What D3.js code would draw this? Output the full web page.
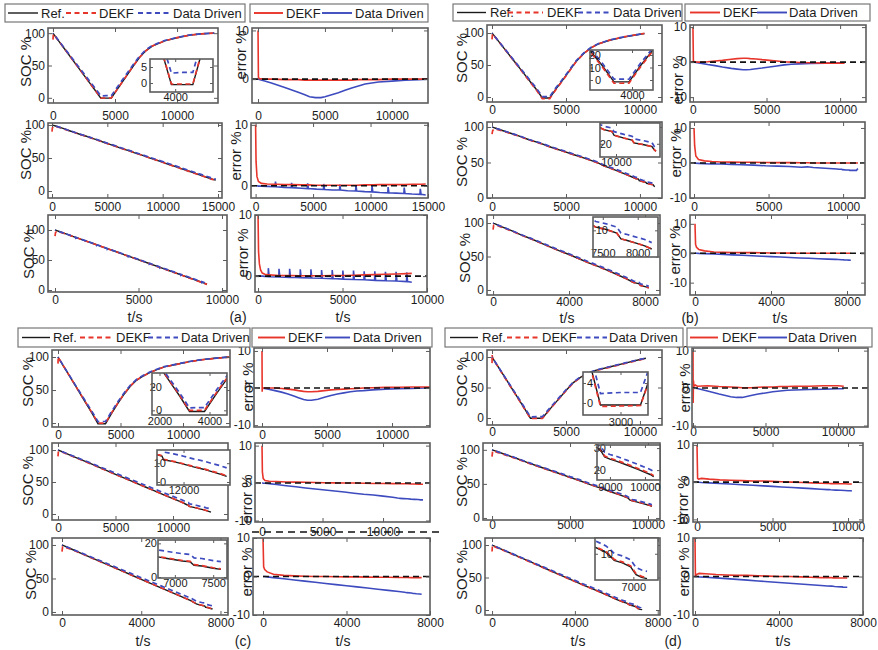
<!DOCTYPE html>
<html><head><meta charset="utf-8">
<script src="https://cdn.jsdelivr.net/npm/d3@7"></script>
<style>
html,body{margin:0;padding:0;background:#fff;}
svg{display:block;}
</style></head><body>
<script>
// ---------- series: time (s), reference SOC (%), DEKF error (%), data-driven error (%) ----------
// (a) row 1: charge/discharge cycle
const a1T    = [0,30,100,500,1000,2000,3000,3500,3850,4300,4700,5000,5500,6000,6500,7000,7500,8000,9000,10000,11000,12000,13000];
const a1Ref  = [100,99.2,97.4,87,74,48,22,9,-0.5,-0.5,-0.5,8,22,36,50,63,73,80,88,93,97,99,100];
const a1Dekf = [10,0.4,0.1,0,0,-0.1,-0.1,-0.2,-0.2,-0.2,-0.2,-0.2,-0.2,-0.2,-0.2,-0.2,-0.1,-0.1,-0.1,0,0,0,0];
const a1DD   = [0,0,-0.1,-0.4,-0.8,-1.7,-2.7,-3.2,-3.6,-3.8,-3.8,-3.6,-3.2,-2.8,-2.3,-1.8,-1.4,-1.0,-0.6,-0.4,-0.2,-0.1,0];
// (a) row 2
const a2T    = [0,40,120,250,500,1000,1700,1730,1800,2500,3100,3130,3200,4000,4500,4530,4600,5300,5900,5930,6000,6700,7300,7330,7400,8000,8700,8730,8800,9500,10100,10130,10200,10800,11500,11530,11600,12200,12900,12930,13000,13600,14300,14330,14400,14800];
const a2Ref  = [100,99.8,99.4,98.8,97.5,94.8,90.5,90.4,90.2,86,83,82.9,82.3,77.8,75,74.9,74.2,70.3,67,66.9,66.2,62.4,59,58.9,58.2,55,51,50.9,50.2,46.5,43,42.9,42.2,39,35,34.9,34.2,31,27,26.9,26.2,23,19,18.9,18.2,16.5];
const a2Dekf = [10,4,1.5,0.7,0.4,0.3,0.25,0.25,0.25,0.2,0.2,0.2,0.2,0.15,0.15,0.15,0.15,0.1,0.1,0.1,0.1,0.1,0.1,0.1,0.1,0.1,0.1,0.1,0.1,0.15,0.15,0.15,0.15,0.2,0.2,0.2,0.2,0.2,0.2,0.2,0.2,0.25,0.25,0.25,0.25,0.3];
const a2DD   = [0,0,0,-0.05,-0.05,-0.1,-0.15,0.7,-0.15,-0.25,-0.3,0.5,-0.3,-0.4,-0.45,0.4,-0.45,-0.55,-0.6,0.3,-0.6,-0.7,-0.7,0.2,-0.7,-0.8,-0.85,0.1,-0.85,-0.95,-1.0,0,-1.0,-1.1,-1.15,-0.2,-1.15,-1.2,-1.25,-0.3,-1.25,-1.35,-1.4,-0.5,-1.4,-1.5];
// (a) row 3
const a3T    = [0,30,80,150,250,400,600,610,660,1230,1240,1290,1860,1870,1920,2490,2500,2550,3120,3130,3180,3750,3760,3810,4380,4390,4440,5010,5020,5070,5640,5650,5700,6270,6280,6330,6900,6910,6960,7530,7540,7590,8160,8170,8220,8790,8800,8850,9100];
const a3Ref  = [100,99.7,99.2,98.5,97.5,96,94.1,94,93.5,87.8,87.7,87.2,81.6,81.5,81,75.4,75.3,74.8,69.1,69,68.5,62.9,62.8,62.3,56.6,56.5,56,50.4,50.3,49.8,44.2,44.1,43.6,37.9,37.8,37.3,31.7,31.6,31.1,25.5,25.4,24.9,19.2,19.1,18.6,13,12.9,12.4,9.9];
const a3Dekf = [10,4,2,1,0.5,0.3,0.2,0.2,0.2,0.1,0.1,0.1,0.1,0.1,0.1,0.05,0.05,0.05,0.05,0.05,0.05,0.05,0.05,0.05,0.1,0.1,0.1,0.1,0.1,0.1,0.15,0.15,0.15,0.2,0.2,0.2,0.25,0.25,0.25,0.3,0.3,0.3,0.35,0.35,0.35,0.4,0.4,0.4,0.45];
const a3DD   = [0,0,0,0,0,-0.05,-0.1,1.3,-0.1,-0.15,1.2,-0.15,-0.2,1.2,-0.2,-0.25,1.1,-0.25,-0.3,1.1,-0.3,-0.35,1.0,-0.35,-0.4,1.0,-0.4,-0.5,0.9,-0.5,-0.55,0.9,-0.55,-0.6,0.8,-0.6,-0.7,0.8,-0.7,-0.75,0.7,-0.75,-0.8,0.7,-0.8,-0.9,0.6,-0.9,-1.0];
// (b) row 1
const b1T    = [0,30,100,500,1000,1500,2000,2600,3000,3400,3650,3900,4300,4700,5200,5700,6200,6700,7200,8000,9000,10000,10300];
const b1Ref  = [100,99.1,97,85.3,70.6,55.9,41.2,23.5,11.8,-1.5,-1.5,-1.5,12,24,40,56,68,77,83,89,94,98,99];
const b1Dekf = [10,0.3,0.05,0,0.1,0.3,0.5,0.8,1.0,1.1,1.1,1.0,0.9,0.7,0.5,0.3,0.1,0,-0.1,-0.2,-0.3,-0.3,-0.3];
const b1DD   = [0,0,-0.05,-0.3,-0.7,-1.0,-1.4,-1.8,-2.0,-2.2,-2.2,-2.1,-1.9,-1.7,-1.4,-1.1,-0.8,-0.6,-0.5,-0.4,-0.3,-0.2,-0.2];
// (b) row 2
const b2T    = [0,40,120,300,700,1200,1800,2500,3200,4000,4800,5600,6400,7200,7600,8000,8800,9600,9700,9900,9950,10200,10400,10450,10700,10900,10950,11000];
const b2Ref  = [100,99.7,99.1,97.8,95,91.5,87.5,82,77.5,71.5,66,60.5,55,49,45,42,35.5,28.5,27.5,26.5,24.5,23,22,20.5,19.5,18.5,17,16];
const b2Dekf = [10,5,2,1,0.6,0.4,0.3,0.25,0.2,0.2,0.15,0.1,0.1,0.05,0.05,0,0,0,0,0,0,0,0,0,0,0,0,0];
const b2DD   = [0,0,-0.05,-0.1,-0.2,-0.3,-0.3,-0.4,-0.5,-0.6,-0.8,-0.9,-1.0,-1.2,-1.1,-1.3,-1.5,-1.7,-1.8,-1.8,-1.9,-2.0,-2.0,-2.1,-2.1,-2.1,-1.8,-1.6];
// (b) row 3
const b3T    = [0,30,80,200,500,1000,1500,2000,2500,3000,3500,4000,4500,5000,5500,6000,6500,7000,7400,7550,7700,7760,7850,8000,8100,8200];
const b3Ref  = [100,99.6,99.1,97.6,94,88.2,82,76.5,70.5,64.5,58.5,53,47,41,35.5,29.5,23.5,17,11.2,10.3,9,6.8,6.2,5,4.2,3];
const b3Dekf = [10,3,2,1.3,0.8,0.4,0.3,0.25,0.2,0.2,0.15,0.1,0.1,0.05,0,0,0,0,0,0,0,0,0,0,0,0];
const b3DD   = [0,0,0,-0.05,-0.12,-0.25,-0.4,-0.55,-0.7,-0.85,-1.0,-1.15,-1.3,-1.45,-1.6,-1.7,-1.85,-2.0,-2.1,-2.15,-2.2,-2.2,-2.25,-2.3,-2.35,-2.4];
// (c) row 1
const c1T    = [0,15,30,100,500,1000,1500,2000,2500,2800,3200,3500,3800,4300,4800,5300,5800,6300,6800,7300,7800,8500,9500,10500,11500,12500,13700];
const c1Ref  = [100,99.5,99,96.9,84.4,68.8,53.1,37.5,21.9,12.5,-1,-1,-1,15,30,44,56,65,71,76,80,85,89,93,96,98,100];
const c1Dekf = [10,-1,0.2,0,0,0,-0.1,-0.3,-0.5,-0.7,-0.9,-1.0,-1.0,-0.9,-0.7,-0.5,-0.4,-0.3,-0.2,-0.1,0,0.1,0.2,0.2,0.3,0.3,0.3];
const c1DD   = [0,0,0,-0.05,-0.3,-0.7,-1.1,-1.6,-2.2,-2.6,-3.1,-3.3,-3.3,-3.0,-2.5,-2.0,-1.6,-1.3,-1.0,-0.8,-0.7,-0.5,-0.3,-0.2,-0.1,0,0];
// (c) row 2
const c2T    = [0,30,100,250,600,1200,2000,2800,3600,4400,5200,6000,6800,7600,8400,9200,10000,10800,11200,11350,11400,11700,12000,12300,12600,12900,13100,13300];
const c2Ref  = [100,99.8,99.3,98.2,95.6,91,85,79,72.8,66.6,60.5,54.4,48.3,42.2,36.2,30,24,18,14.5,13.8,11.8,10.8,9.5,8,6.8,5.2,4.2,3];
const c2Dekf = [10,3,1.2,0.7,0.5,0.4,0.3,0.25,0.2,0.15,0.1,0.05,0,0,-0.05,-0.1,-0.1,-0.15,-0.2,-0.2,-0.2,-0.2,-0.2,-0.25,-0.25,-0.3,-0.3,-0.3];
const c2DD   = [0,0,-0.02,-0.05,-0.15,-0.4,-0.7,-1.0,-1.3,-1.6,-1.85,-2.1,-2.4,-2.7,-3.0,-3.2,-3.5,-3.8,-4.0,-4.05,-4.1,-4.15,-4.2,-4.3,-4.35,-4.4,-4.5,-4.5];
// (c) row 3
const c3T    = [0,30,80,200,500,1000,1500,2000,2500,3000,3500,4000,4500,5000,5500,6000,6500,6780,6900,7100,7200,7250,7350,7500,7600];
const c3Ref  = [100,99.6,99,97.4,93.6,87.2,80.8,74.4,68,61.6,55.2,48.8,42.4,36,29.6,23.2,16.8,12,11,9.5,9,7,6.5,5.2,4.5];
const c3Dekf = [10,2.5,1.8,1.2,0.6,0.3,0.15,0.05,0,0,-0.05,-0.1,-0.1,-0.15,-0.2,-0.2,-0.25,-0.25,-0.25,-0.3,-0.3,-0.3,-0.3,-0.3,-0.3];
const c3DD   = [0,0,-0.02,-0.1,-0.3,-0.6,-0.9,-1.2,-1.5,-1.8,-2.1,-2.4,-2.7,-3.0,-3.3,-3.6,-3.9,-4.1,-4.2,-4.3,-4.4,-4.4,-4.5,-4.55,-4.6];
// (d) row 1
const d1T    = [0,10,30,60,150,300,1000,1800,2600,3000,3400,4000,4500,5000,5500,6000,6500,7000,8000,9000,10000,10400];
const d1Ref  = [100,99.6,98.8,97.7,94.2,88.5,61.5,30.8,-0.4,-0.4,-0.4,17,31,45,58,67,73,78,84,90,96,98];
const d1Dekf = [10,-4,2,0.5,0.8,0.5,0.6,0.4,0.3,0.2,0.1,0.1,0.2,0.3,0.3,0.4,0.4,0.5,0.5,0.6,0.6,0.5];
const d1DD   = [0,0,0,0,-0.05,-0.1,-0.8,-1.6,-2.3,-2.5,-2.5,-2.0,-1.6,-1.3,-1.0,-0.8,-0.6,-0.5,-0.4,-0.3,-0.2,-0.2];
// (d) row 2
const d2T    = [0,40,100,300,800,1500,2200,3000,3700,4400,5000,5600,6300,7000,7600,8200,8650,8750,8850,9000,9200,9500,9800,10000,10150,10250];
const d2Ref  = [100,99.7,99.2,97.6,93.5,88,82,75.5,70,64.5,59.5,55,49,43.5,38.5,34,30,28.5,26,25,24,22.2,20.3,19,18,17];
const d2Dekf = [10,1,0.8,1,0.8,0.6,0.5,0.4,0.3,0.3,0.2,0.1,0,-0.1,-0.2,-0.3,-0.35,-0.35,-0.4,-0.4,-0.4,-0.45,-0.45,-0.5,-0.5,-0.5];
const d2DD   = [0,0,-0.02,-0.1,-0.2,-0.35,-0.5,-0.7,-0.85,-1.0,-1.15,-1.3,-1.45,-1.6,-1.75,-1.9,-2.0,-2.0,-2.05,-2.1,-2.15,-2.2,-2.25,-2.3,-2.3,-2.35];
// (d) row 3
const d3T    = [0,20,60,200,500,1000,1500,2000,2500,3000,3500,4000,4500,5000,5500,6000,6300,6500,6580,6650,6800,6950,7000,7050,7150,7250];
const d3Ref  = [100,99.7,99.2,97.2,93,86,79,72,65,58,51,44,37,30.5,23.5,16.5,12.5,10.5,9,7.5,6.5,5,3.5,2,1,0.5];
const d3Dekf = [10,0,0.5,0.8,0.7,0.5,0.4,0.3,0.3,0.2,0.1,0,0,-0.1,-0.2,-0.3,-0.3,-0.3,-0.35,-0.35,-0.4,-0.4,-0.4,-0.4,-0.4,-0.4];
const d3DD   = [0,0,-0.02,-0.1,-0.2,-0.35,-0.55,-0.75,-0.95,-1.15,-1.35,-1.55,-1.75,-1.95,-2.15,-2.35,-2.45,-2.5,-2.55,-2.6,-2.65,-2.7,-2.7,-2.75,-2.8,-2.8];

// legend and axis texts
const legendSoc = ["Ref.", "DEKF", "Data Driven"];
const legendErr = ["DEKF", "Data Driven"];
const panelTags = ["(a)", "(b)", "(c)", "(d)"];

const series = {
  a1:{t:a1T,ref:a1Ref,dekf:a1Dekf,dd:a1DD}, a2:{t:a2T,ref:a2Ref,dekf:a2Dekf,dd:a2DD}, a3:{t:a3T,ref:a3Ref,dekf:a3Dekf,dd:a3DD},
  b1:{t:b1T,ref:b1Ref,dekf:b1Dekf,dd:b1DD}, b2:{t:b2T,ref:b2Ref,dekf:b2Dekf,dd:b2DD}, b3:{t:b3T,ref:b3Ref,dekf:b3Dekf,dd:b3DD},
  c1:{t:c1T,ref:c1Ref,dekf:c1Dekf,dd:c1DD}, c2:{t:c2T,ref:c2Ref,dekf:c2Dekf,dd:c2DD}, c3:{t:c3T,ref:c3Ref,dekf:c3Dekf,dd:c3DD},
  d1:{t:d1T,ref:d1Ref,dekf:d1Dekf,dd:d1DD}, d2:{t:d2T,ref:d2Ref,dekf:d2Dekf,dd:d2DD}, d3:{t:d3T,ref:d3Ref,dekf:d3Dekf,dd:d3DD}
};

// ---------- layout ----------
const T3 = [0,5000,10000], T8 = [0,4000,8000], YS = [0,50,100], YE = [-10,0,10];
const layout = [
 {k:'a1', soc:{box:[48,28,218,103], xd:[-400,13300], yd:[-8,108], xt:T3, yt:YS, xly:116, lab:[25,62]},
          err:{box:[252,28,428,103], xd:[-450,12700], yd:[-4.9,10.5], xt:T3, yt:[0,10], xly:116, lab:[240,55]},
          ins:{box:[150,59,213,92], xd:[3000,5500], yd:[-2.8,7.5], xt:[4000], yt:[0,5], ylx:147, xly:97}},
 {k:'a2', soc:{box:[48,123,222,198], xd:[-360,15360], yd:[-10.6,103], xt:[0,5000,10000,15000], yt:YS, xly:207, lab:[25,155]},
          err:{box:[251,123,428,198], xd:[-400,15000], yd:[-2,10.3], xt:[0,5000,10000,15000], yt:[0,10], xly:207, lab:[235,156]}},
 {k:'a3', soc:{box:[48,215,227,292], xd:[-420,10300], yd:[-3.3,125], xt:T3, yt:YS, xly:300, lab:[28,254]},
          err:{box:[255,215,427,292], xd:[-180,10000], yd:[-2.6,10], xt:T3, yt:[0,10], xly:300, lab:[242,253]}},
 {k:'b1', soc:{box:[487,25,662,102], xd:[-340,11490], yd:[-7.8,112.5], xt:T3, yt:YS, xly:110, lab:[461,58]},
          err:{box:[690,25,866,102], xd:[-200,11760], yd:[-11.4,10.6], xt:T3, yt:YE, xly:110, lab:[677,80]},
          ins:{box:[590,50,653,90], xd:[2600,4700], yd:[-8,24], xt:[4000], yt:[0,10,20], ylx:601, xly:95}},
 {k:'b2', soc:{box:[487,122,662,198], xd:[-340,11490], yd:[0,107], xt:T3, yt:YS, xly:207, lab:[461,162]},
          err:{box:[690,122,865,198], xd:[-270,11470], yd:[-10,11.7], xt:T3, yt:YE, xly:207, lab:[675,153]},
          ins:{box:[600,123,660,157], xd:[9600,11100], yd:[13,31], xt:[10000], yt:[20], ylx:612, xly:162}},
 {k:'b3', soc:{box:[487,215,660,295], xd:[-320,8790], yd:[-7.5,112], xt:T8, yt:YS, xly:302, lab:[464,258]},
          err:{box:[690,215,865,295], xd:[-263,8947], yd:[-14.2,13], xt:T8, yt:YE, xly:302, lab:[674,250]},
          ins:{box:[593,217,658,257], xd:[7360,8290], yd:[0,15], xt:[7500,8000], yt:[10], ylx:608, xly:253}},
 {k:'c1', soc:{box:[52,350,230,427], xd:[-480,13760], yd:[-6,110.6], xt:T3, yt:YS, xly:435, lab:[27,382]},
          err:{box:[254,348,430,427], xd:[-615,12920], yd:[-10.5,10.8], xt:T3, yt:YE, xly:435, lab:[247,387]},
          ins:{box:[152,373,227,415], xd:[1700,4700], yd:[-4,32], xt:[2000,4000], yt:[0,20], ylx:162, xly:421}},
 {k:'c2', soc:{box:[52,443,228,520], xd:[-520,14780], yd:[-9.4,111], xt:T3, yt:YS, xly:528, lab:[27,481]},
          err:{box:[255,443,430,522], xd:[-580,13880], yd:[-10.4,10.7], xt:T3, yt:YE, xly:532, lab:[246,499]},
          ins:{box:[157,450,230,485], xd:[11200,13400], yd:[-1.6,17], xt:[12000], yt:[0,10], ylx:166, xly:490}},
 {k:'c3', soc:{box:[52,538,228,615], xd:[-505,8380], yd:[-4.5,110.4], xt:T8, yt:YS, xly:623, lab:[30,575]},
          err:{box:[253,538,430,615], xd:[-480,8000], yd:[-10,10], xt:T8, yt:YE, xly:623, lab:[246,572]},
          ins:{box:[158,540,227,578], xd:[6780,7680], yd:[-0.6,22], xt:[7000,7500], yt:[0,20], ylx:157, xly:583}},
 {k:'d1', soc:{box:[487,350,662,425], xd:[-340,11490], yd:[-11.5,111.5], xt:T3, yt:YS, xly:432, lab:[461,382]},
          err:{box:[692,348,868,427], xd:[-70,12070], yd:[-10.4,10.7], xt:T3, yt:YE, xly:432, lab:[684,388]},
          ins:{box:[583,372,648,415], xd:[2250,3550], yd:[-2.4,6.2], xt:[3000], yt:[0,4], ylx:593, xly:422}},
 {k:'d2', soc:{box:[483,443,660,520], xd:[-580,10770], yd:[-3,110], xt:T3, yt:YS, xly:525, lab:[461,482]},
          err:{box:[693,443,863,522], xd:[-265,10990], yd:[-10.7,10.5], xt:T3, yt:YE, xly:527, lab:[682,500]},
          ins:{box:[597,445,660,480], xd:[8630,10430], yd:[15.5,31.4], xt:[9000,10000], yt:[20,30], ylx:606, xly:487}},
 {k:'d3', soc:{box:[485,538,660,615], xd:[-340,8110], yd:[-7.7,110.8], xt:T8, yt:YS, xly:623, lab:[461,575]},
          err:{box:[693,538,863,615], xd:[-95,8000], yd:[-10,10], xt:T8, yt:YE, xly:623, lab:[683,572]},
          ins:{box:[595,538,658,580], xd:[6300,7450], yd:[0,16], xt:[7000], yt:[10], ylx:613, xly:587}}
];

const legends = [
 {box:[5,4,245,22],   items:[[8,38,41,'ref'],[66,96,99,'dekfD'],[138,170,173,'ddD']]},
 {box:[250,4,428,22], items:[[254,283,286,'dekf'],[322,352,355,'dd']]},
 {box:[453,4,682,21], items:[[457,486,490,'ref'],[508,543,547,'dekfD'],[578,610,613,'ddD']]},
 {box:[685,4,870,21], items:[[690,720,723,'dekf'],[757,787,789,'dd']]},
 {box:[18,328,250,347], items:[[22,50,53,'ref'],[80,113,116,'dekfD'],[148,178,181,'ddD']]},
 {box:[252,328,432,347], items:[[258,285,288,'dekf'],[325,350,353,'dd']]},
 {box:[445,328,683,347], items:[[450,478,482,'ref'],[507,538,542,'dekfD'],[577,607,609,'ddD']]},
 {box:[687,328,872,347], items:[[690,718,722,'dekf'],[758,787,788,'dd']]}
];

const tags = [[238,317],[690,318],[243,641],[673,641]];
const tsPos = [[135,317],[343,317],[567,318],[780,318],[143,641],[343,641],[578,641],[783,641]];

// ---------- drawing ----------
const FONT = '"Liberation Sans", Arial, Helvetica, sans-serif';
const COL = {ref:'#1a1a1a', dekf:'#e8352b', dd:'#3d4bbf', frame:'#5c5c5c', text:'#1c1c1c'};
const svg = d3.select('body').append('svg').attr('width',878).attr('height',650)
  .style('font-family', FONT);
const defs = svg.append('defs');
let clipN = 0;
function clipFor(b){
  const id = 'clp' + (clipN++);
  defs.append('clipPath').attr('id', id).append('rect')
    .attr('x', b[0]).attr('y', b[1]).attr('width', b[2]-b[0]).attr('height', b[3]-b[1]);
  return `url(#${id})`;
}

function axes(g, b, x, y, o, fs, tl){
  const [x0,y0,x1,y1] = b;
  const fmt = d => String(d);
  const style = sel => {
    sel.attr('font-family', FONT).attr('font-size', fs).attr('color', COL.frame);
    sel.select('.domain').remove();
    sel.selectAll('.tick line').attr('stroke-width', 1);
    sel.selectAll('.tick text').attr('fill', COL.text);
  };
  const padB = o.xly - y1 - 0.35*fs;
  g.append('g').attr('transform', `translate(0,${y1})`)
    .call(d3.axisBottom(x).tickValues(o.xt).tickSize(-tl).tickPadding(padB).tickFormat(fmt)).call(style);
  g.append('g').attr('transform', `translate(0,${y0})`)
    .call(d3.axisTop(x).tickValues(o.xt).tickSize(-tl).tickFormat('')).call(style);
  const ylx = o.ylx !== undefined ? o.ylx : x0 - 3;
  g.append('g').attr('transform', `translate(${x0},0)`)
    .call(d3.axisLeft(y).tickValues(o.yt).tickSize(-tl).tickPadding(x0 - ylx).tickFormat(fmt)).call(style);
  g.append('g').attr('transform', `translate(${x1},0)`)
    .call(d3.axisRight(y).tickValues(o.yt).tickSize(-tl).tickFormat('')).call(style);
  g.append('rect').attr('x', x0).attr('y', y0).attr('width', x1-x0).attr('height', y1-y0)
    .attr('fill', 'none').attr('stroke', COL.frame).attr('stroke-width', 1.6);
}

function vLabel(text, p){
  svg.append('text').attr('transform', `translate(${p[0]},${p[1]}) rotate(-90)`)
    .attr('text-anchor', 'middle').attr('dominant-baseline', 'central')
    .attr('font-size', 15).attr('fill', COL.text).text(text);
}

function socLines(g, s, x, y, w){
  const idx = d3.range(s.t.length);
  const mk = f => d3.line().x(i => x(s.t[i])).y(i => y(f(i)))(idx);
  g.append('path').attr('d', mk(i => s.ref[i])).attr('fill','none')
    .attr('stroke', COL.ref).attr('stroke-width', w);
  g.append('path').attr('d', mk(i => s.ref[i] - s.dekf[i])).attr('fill','none')
    .attr('stroke', COL.dekf).attr('stroke-width', w + 0.3).attr('stroke-dasharray', '5,3.5');
  g.append('path').attr('d', mk(i => s.ref[i] - s.dd[i])).attr('fill','none')
    .attr('stroke', COL.dd).attr('stroke-width', w + 0.3).attr('stroke-dasharray', '5,3.5')
    .attr('stroke-dashoffset', 4.2);
}

function drawSoc(o, s, ins){
  const b = o.box;
  const x = d3.scaleLinear().domain(o.xd).range([b[0], b[2]]);
  const y = d3.scaleLinear().domain(o.yd).range([b[3], b[1]]);
  const g = svg.append('g');
  socLines(g.append('g').attr('clip-path', clipFor(b)), s, x, y, 1.4);
  axes(g, b, x, y, o, 12, 4);
  vLabel('SOC %', o.lab);
  if (ins) {
    const ib = ins.box;
    const xi = d3.scaleLinear().domain(ins.xd).range([ib[0], ib[2]]);
    const yi = d3.scaleLinear().domain(ins.yd).range([ib[3], ib[1]]);
    const gi = svg.append('g');
    gi.append('rect').attr('x', ib[0]).attr('y', ib[1]).attr('width', ib[2]-ib[0]).attr('height', ib[3]-ib[1])
      .attr('fill', '#fff');
    socLines(gi.append('g').attr('clip-path', clipFor(ib)), s, xi, yi, 1.4);
    axes(gi, ib, xi, yi, ins, 11, 3);
  }
}

function drawErr(o, s){
  const b = o.box;
  const x = d3.scaleLinear().domain(o.xd).range([b[0], b[2]]);
  const y = d3.scaleLinear().domain(o.yd).range([b[3], b[1]]);
  const g = svg.append('g');
  const lg = g.append('g').attr('clip-path', clipFor(b));
  const idx = d3.range(s.t.length);
  const mk = arr => d3.line().x(i => x(s.t[i])).y(i => y(arr[i]))(idx);
  lg.append('path').attr('d', mk(s.dd)).attr('fill','none').attr('stroke', COL.dd).attr('stroke-width', 1.6);
  lg.append('path').attr('d', mk(s.dekf)).attr('fill','none').attr('stroke', COL.dekf).attr('stroke-width', 1.6);
  lg.append('line').attr('x1', b[0]).attr('x2', b[2]).attr('y1', y(0)).attr('y2', y(0))
    .attr('stroke', '#111').attr('stroke-width', 1.6).attr('stroke-dasharray', '6,4');
  axes(g, b, x, y, o, 12, 4);
  vLabel('error %', o.lab);
}

layout.forEach(p => {
  drawSoc(p.soc, series[p.k], p.ins);
  drawErr(p.err, series[p.k]);
});

// stray dashed rule running through the tick labels above (c) bottom-right plot
svg.append('line').attr('x1', 252).attr('x2', 440).attr('y1', 532).attr('y2', 532)
  .attr('stroke', '#111').attr('stroke-width', 1.5).attr('stroke-dasharray', '7,5');

// legends
const legStyle = {
  ref:   {c: COL.ref,  d: null,    label: legendSoc[0]},
  dekfD: {c: COL.dekf, d: '5,3.5', label: legendSoc[1]},
  ddD:   {c: COL.dd,   d: '5,3.5', label: legendSoc[2]},
  dekf:  {c: COL.dekf, d: null,    label: legendErr[0]},
  dd:    {c: COL.dd,   d: null,    label: legendErr[1]}
};
legends.forEach(L => {
  const [x0,y0,x1,y1] = L.box, cy = (y0 + y1) / 2;
  const g = svg.append('g');
  g.append('rect').attr('x', x0).attr('y', y0).attr('width', x1-x0).attr('height', y1-y0)
    .attr('fill', '#fff').attr('stroke', '#777').attr('stroke-width', 1.2);
  L.items.forEach(([a, bb, tx, key]) => {
    const st = legStyle[key];
    g.append('line').attr('x1', a).attr('x2', bb).attr('y1', cy).attr('y2', cy)
      .attr('stroke', st.c).attr('stroke-width', key === 'ref' ? 1.4 : 1.9)
      .attr('stroke-dasharray', st.d);
    g.append('text').attr('x', tx).attr('y', cy).attr('dominant-baseline', 'central')
      .attr('font-size', 13).attr('fill', COL.text).text(st.label);
  });
});

// axis titles and panel tags
tsPos.forEach(p => svg.append('text').attr('x', p[0]).attr('y', p[1]).attr('text-anchor','middle')
  .attr('dominant-baseline','central').attr('font-size', 14).attr('fill', COL.text).text('t/s'));
tags.forEach((p, i) => svg.append('text').attr('x', p[0]).attr('y', p[1]).attr('text-anchor','middle')
  .attr('dominant-baseline','central').attr('font-size', 14).attr('fill', COL.text).text(panelTags[i]));
</script>
</body></html>
